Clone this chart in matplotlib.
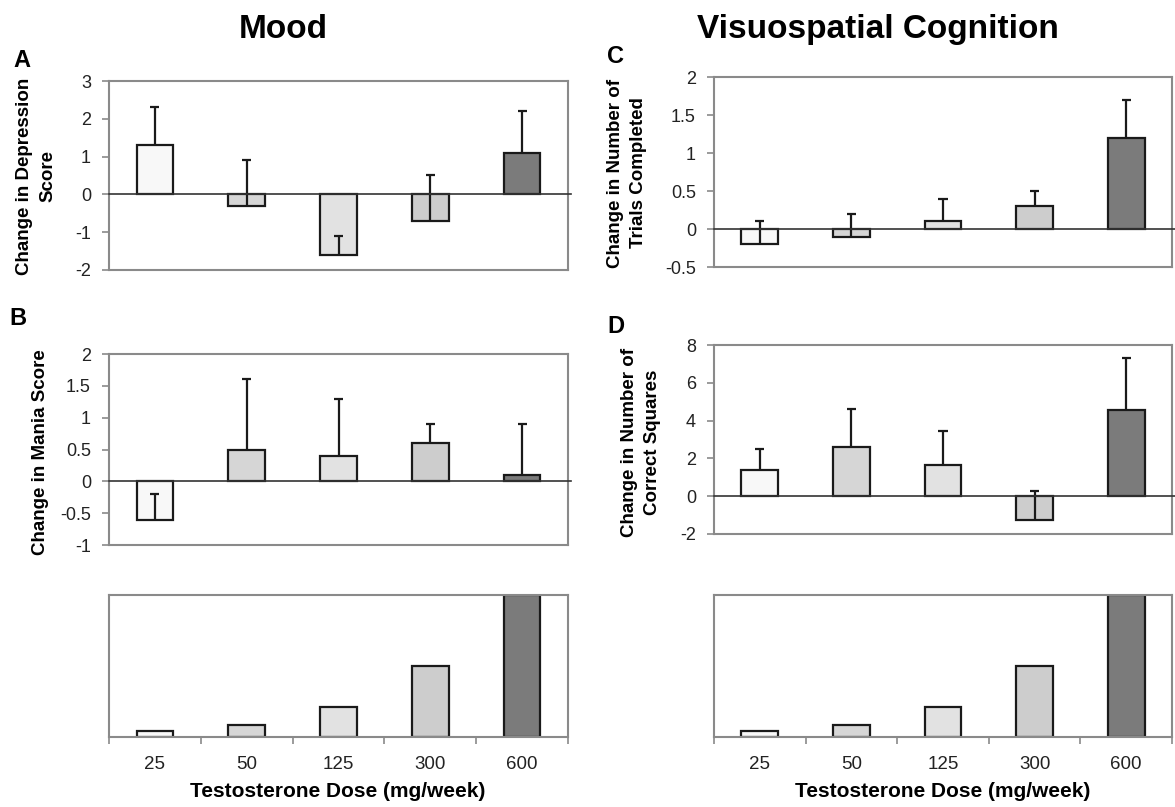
import matplotlib
matplotlib.use('Agg')
import matplotlib.pyplot as plt
import numpy as np

plt.rcParams['font.family'] = ['Liberation Sans', 'DejaVu Sans']
plt.rcParams['axes.unicode_minus'] = False

W, H = 1175, 807

doses = ['25', '50', '125', '300', '600']
dose_values = [25, 50, 125, 300, 600]
bar_colors = ['#f8f8f8', '#d6d6d6', '#e2e2e2', '#cdcdcd', '#7b7b7b']

# A: mood - depression
depression_mean = [1.3, -0.3, -1.6, -0.7, 1.1]
depression_err = [1.0, 1.2, 0.5, 1.2, 1.1]
# B: mood - mania
mania_mean = [-0.6, 0.5, 0.4, 0.6, 0.1]
mania_err = [0.4, 1.1, 0.9, 0.3, 0.8]
# C: visuospatial - trials completed
trials_mean = [-0.2, -0.1, 0.1, 0.3, 1.2]
trials_err = [0.3, 0.3, 0.3, 0.2, 0.5]
# D: visuospatial - correct squares
squares_mean = [1.4, 2.6, 1.65, -1.25, 4.55]
squares_err = [1.1, 2.0, 1.8, 1.5, 2.75]

EDGE = '#1a1a1a'
SPINE = '#8a8a8a'


def px_axes(fig, left, top, right, bottom):
    return fig.add_axes([left / W, 1 - bottom / H, (right - left) / W, (bottom - top) / H])


def style_spines(ax):
    for s in ax.spines.values():
        s.set_color(SPINE)
        s.set_linewidth(1.5)


def plot_effect(ax, means, errs, ylim, yticks):
    x = np.arange(len(doses))
    means = np.array(means)
    tops = means + np.array(errs)
    ax.bar(x, means, width=0.4, color=bar_colors, edgecolor=EDGE, linewidth=1.6, zorder=2)
    ax.vlines(x, means, tops, color=EDGE, linewidth=1.6, zorder=3)
    ax.hlines(tops, x - 0.05, x + 0.05, color=EDGE, linewidth=1.6, zorder=3)
    ax.axhline(0, xmax=1.007, color='#333333', linewidth=1.2, zorder=4, clip_on=False)
    ax.set_xlim(-0.5, 4.5)
    ax.set_ylim(*ylim)
    ax.set_yticks(yticks)
    ax.set_yticklabels(['%g' % t for t in yticks])
    ax.set_xticks([])
    ax.tick_params(axis='y', direction='out', length=5, width=1.2, color=SPINE,
                   labelsize=13, labelcolor='#222222', pad=8)
    style_spines(ax)


def plot_dose(ax):
    x = np.arange(len(doses))
    ax.bar(x, dose_values, width=0.4, color=bar_colors, edgecolor=EDGE, linewidth=1.6, zorder=2)
    ax.set_xlim(-0.5, 4.5)
    ax.set_ylim(0, 600)
    ax.set_yticks([])
    ax.set_xticks(np.arange(-0.5, 5, 1.0))
    ax.set_xticklabels([])
    ax.set_xticks(x, minor=True)
    ax.set_xticklabels(doses, minor=True)
    ax.tick_params(axis='x', which='major', direction='out', length=5, width=1.2, color=SPINE)
    ax.tick_params(axis='x', which='minor', length=0, labelsize=13.5, labelcolor='#222222', pad=14)
    style_spines(ax)


fig = plt.figure(figsize=(W / 100, H / 100), dpi=100)

axA = px_axes(fig, 109, 81, 568, 270)
plot_effect(axA, depression_mean, depression_err, (-2, 3), [-2, -1, 0, 1, 2, 3])
axB = px_axes(fig, 109, 354, 568, 545)
plot_effect(axB, mania_mean, mania_err, (-1, 2), [-1, -0.5, 0, 0.5, 1, 1.5, 2])
axC = px_axes(fig, 714, 77, 1172, 267)
plot_effect(axC, trials_mean, trials_err, (-0.5, 2), [-0.5, 0, 0.5, 1, 1.5, 2])
axD = px_axes(fig, 714, 345, 1172, 534)
plot_effect(axD, squares_mean, squares_err, (-2, 8), [-2, 0, 2, 4, 6, 8])

axE = px_axes(fig, 109, 595, 568, 737)
plot_dose(axE)
axF = px_axes(fig, 714, 595, 1172, 737)
plot_dose(axF)


def ftext(x, y, s, **kw):
    fig.text(x / W, 1 - y / H, s, **kw)


# column titles
ftext(283, 38, 'Mood', fontsize=24, fontweight='bold', ha='center', va='baseline')
ftext(878, 38, 'Visuospatial Cognition', fontsize=24, fontweight='bold', ha='center', va='baseline')

# panel letters
for letter, lx, ly in [('A', 13, 67), ('B', 9, 325), ('C', 607, 63), ('D', 607, 333)]:
    ftext(lx, ly, letter, fontsize=17, fontweight='bold', ha='left', va='baseline')

# y labels
ylab_kw = dict(fontsize=13.5, fontweight='bold', rotation=90, ha='center', va='center',
               multialignment='center', linespacing=1.5)
ftext(36, 176, 'Change in Depression\nScore', **ylab_kw)
ftext(41, 452, 'Change in Mania Score', **ylab_kw)
ftext(627, 173, 'Change in Number of\nTrials Completed', **ylab_kw)
ftext(641, 442, 'Change in Number of\nCorrect Squares', **ylab_kw)

# x labels
ftext(338, 797, 'Testosterone Dose (mg/week)', fontsize=15, fontweight='bold', ha='center', va='baseline')
ftext(943, 797, 'Testosterone Dose (mg/week)', fontsize=15, fontweight='bold', ha='center', va='baseline')

fig.savefig('out.png', dpi=100, facecolor='white')
plt.close(fig)
